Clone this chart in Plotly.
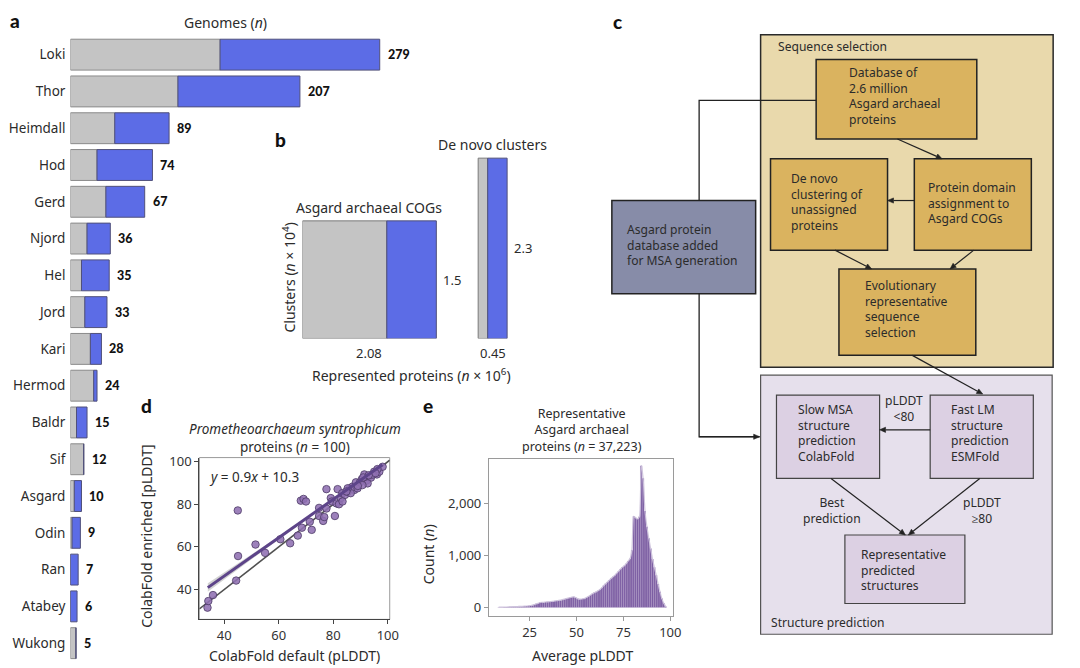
import math
import plotly.graph_objects as go

W, H = 1080, 668
FONT = "Noto Sans"
TXT = "#2b2b2b"
HEAVY = "Lato"

# ---------------- data ----------------
# panel a
clades = ["Loki", "Thor", "Heimdall", "Hod", "Gerd", "Njord", "Hel", "Jord", "Kari",
          "Hermod", "Baldr", "Sif", "Asgard", "Odin", "Ran", "Atabey", "Wukong"]
genomes_total = [279, 207, 89, 74, 67, 36, 35, 33, 28, 24, 15, 12, 10, 9, 7, 6, 5]
genomes_gray = [135, 97, 40, 24, 32, 15, 10, 13, 18, 21, 5.5, 12, 3.5, 1.5, 0, 0, 5]

# panel b
cluster_groups = ["Asgard archaeal COGs", "De novo clusters"]
proteins_e6 = [2.08, 0.45]
clusters_e4 = [1.5, 2.3]
gray_share = [0.63, 0.33]

# panel d
default_plddt = [33.9, 34.2, 35.9, 44.4, 45.1, 45.0, 51.5, 55.0, 60.6, 64.2, 67.0, 68.5,
                 68.1, 69.1, 70.0, 72.1, 71.4, 74.8, 74.8, 76.3, 76.7, 77.5, 77.5, 79.1,
                 79.5, 80.6, 81.2, 81.6, 82.1, 82.8, 83.3, 84.3, 85.3, 86.2, 87.1, 87.7,
                 88.3, 88.9, 89.8, 90.5, 91.4, 92.2, 92.8, 93.8, 95.0, 96.0, 96.9, 98.1,
                 96.2, 92.6, 90.7, 94.4, 86.4, 83.4, 85.3, 91.0, 93.0, 95.5, 89.0, 84.8]
enriched_plddt = [31.5, 34.6, 37.4, 44.2, 55.7, 77.1, 61.1, 57.2, 63.6, 61.7, 65.3, 69.0,
                  81.7, 82.5, 81.3, 68.0, 71.8, 78.3, 74.5, 72.2, 74.0, 87.1, 78.0, 82.9,
                  81.3, 74.5, 80.4, 87.1, 80.0, 82.9, 85.2, 84.4, 85.9, 87.5, 88.3, 86.7,
                  90.3, 87.5, 90.3, 91.8, 94.0, 91.1, 92.8, 92.5, 95.3, 94.0, 95.3, 97.6,
                  96.5, 89.8, 89.0, 93.9, 85.2, 81.3, 87.5, 92.6, 93.6, 94.6, 88.6, 86.0]
fit_slope, fit_intercept = 0.9, 10.3
fit_x = [34, 98]
ci_x = [34, 45, 55, 65, 75, 85, 98]
ci_half = [2.0, 1.3, 0.9, 0.6, 0.45, 0.45, 0.7]
d_range_x = [30.9, 100.7]
d_range_y = [26.0, 101.9]

# panel e (bins of width 1, left edges)
bin_left = list(range(8, 98))
bin_counts = [5, 5, 6, 7, 8, 10, 12, 14, 16, 18, 18, 20, 22, 24, 26, 28, 32, 38, 45, 55, 70, 80,
              95, 100, 98, 105, 108, 110, 115, 118, 125, 130, 135, 140, 150, 160, 170, 180, 190,
              200, 205, 190,
              170, 160, 162, 168, 175, 195, 215, 240, 265, 285, 300, 320, 345, 380, 420, 455,
              490, 525, 560, 590,
              620, 660, 700, 740, 775, 800, 840, 890, 935, 1100,
              1750, 1720, 1700, 1740, 2720, 2480, 1850, 1550, 1330, 1130,
              930, 770, 620, 450, 300, 170, 80, 20]


def X(px):
    return px / W


def Y(py):
    return 1 - py / H


def label(x, y, text, size=13, xanchor="center", yanchor="middle", angle=0, align="center",
          xref="paper", yref="paper", family=None, weight=None, color=TXT, xshift=0, yshift=0):
    f = dict(size=size, color=color)
    if family:
        f["family"] = family
    if weight:
        f["weight"] = weight
    return dict(x=x, y=y, xref=xref, yref=yref, text=text, showarrow=False, xanchor=xanchor,
                yanchor=yanchor, textangle=angle, align=align, font=f, xshift=xshift, yshift=yshift,
                borderpad=0)


fig = go.Figure()
ann = []
shapes = []

# ---------------- panel a ----------------
genomes_blue = [t - g for t, g in zip(genomes_total, genomes_gray)]
fig.add_trace(go.Bar(y=clades, x=genomes_gray, orientation="h", width=0.84,
                     marker=dict(color="#c4c4c4", line=dict(color="#8a8a8a", width=1)),
                     xaxis="x", yaxis="y", showlegend=False, hoverinfo="skip"))
fig.add_trace(go.Bar(y=clades, x=genomes_blue, base=genomes_gray, orientation="h", width=0.84,
                     marker=dict(color="#5c6ce6", line=dict(color="#50507a", width=1)),
                     xaxis="x", yaxis="y", showlegend=False, hoverinfo="skip"))
for c, t in zip(clades, genomes_total):
    ann.append(label(t, c, str(t), size=12.5, xanchor="left", xref="x", yref="y", xshift=7,
                     family=HEAVY, weight=900, color="#111"))
ann.append(label(X(227), Y(18), "Genomes (<i>n</i>)", size=14))

# ---------------- panel b ----------------
gap = 0.65
starts = [0, proteins_e6[0] + gap]
fig.add_trace(go.Bar(x=starts, y=clusters_e4, width=[w * g for w, g in zip(proteins_e6, gray_share)],
                     offset=0, marker=dict(color="#c4c4c4", line=dict(color="#7a7a7a", width=1)),
                     xaxis="x2", yaxis="y2", showlegend=False, hoverinfo="skip"))
fig.add_trace(go.Bar(x=[s + w * g for s, w, g in zip(starts, proteins_e6, gray_share)], y=clusters_e4,
                     width=[w * (1 - g) for w, g in zip(proteins_e6, gray_share)],
                     offset=0, marker=dict(color="#5c6ce6", line=dict(color="#50507a", width=1)),
                     xaxis="x2", yaxis="y2", showlegend=False, hoverinfo="skip"))
for s, w, h, name in zip(starts, proteins_e6, clusters_e4, cluster_groups):
    ann.append(label(s + w / 2, 0, f"{w:g}", size=13, yanchor="top", xref="x2", yref="y2", yshift=-5))
    ann.append(label(s + w, h / 2, f"{h:g}", size=13, xanchor="left", xref="x2", yref="y2", xshift=6))
    ann.append(label(s + w / 2, h, name, size=14, yanchor="bottom", xref="x2", yref="y2", yshift=3))
ann.append(label(X(415), Y(373), "Represented proteins (<i>n</i> × 10<sup>6</sup>)", size=14))
ann.append(label(X(291), Y(275), "Clusters (<i>n</i> × 10<sup>4</sup>)", size=14, angle=-90))

# ---------------- panel d ----------------
fig.add_trace(go.Scatter(x=ci_x + ci_x[::-1],
                         y=[fit_slope * x + fit_intercept + h for x, h in zip(ci_x, ci_half)] +
                           [fit_slope * x + fit_intercept - h for x, h in zip(ci_x, ci_half)][::-1],
                         fill="toself", fillcolor="rgba(175,175,175,0.55)", line=dict(width=0),
                         mode="lines", xaxis="x3", yaxis="y3", showlegend=False, hoverinfo="skip"))
fig.add_trace(go.Scatter(x=d_range_x, y=d_range_x, mode="lines", line=dict(color="#505050", width=1.6),
                         xaxis="x3", yaxis="y3", showlegend=False, hoverinfo="skip"))
fig.add_trace(go.Scatter(x=default_plddt, y=enriched_plddt, mode="markers",
                         marker=dict(size=7.5, color="rgba(143,112,178,0.88)",
                                     line=dict(color="#4d3b66", width=0.8)),
                         xaxis="x3", yaxis="y3", showlegend=False, hoverinfo="skip"))
fig.add_trace(go.Scatter(x=fit_x, y=[fit_slope * x + fit_intercept for x in fit_x], mode="lines",
                         line=dict(color="#5d4489", width=3), xaxis="x3", yaxis="y3",
                         showlegend=False, hoverinfo="skip"))
shapes.append(dict(type="rect", xref="x3 domain", yref="y3 domain", x0=0, x1=1, y0=0, y1=1,
                   line=dict(color="#9a9a9a", width=1), layer="below"))
ann.append(label(X(297), Y(436),
                 "<i>Prometheoarchaeum syntrophicum</i><br>proteins (<i>n</i> = 100)", size=13.5))
ann.append(label(X(210), Y(476), "<i>y</i> = 0.9<i>x</i> + 10.3", size=13.5, xanchor="left"))
ann.append(label(X(297), Y(655), "ColabFold default (pLDDT)", size=14))
ann.append(label(X(148), Y(535), "ColabFold enriched [pLDDT]", size=14, angle=-90))

# ---------------- panel e ----------------
fig.add_trace(go.Bar(x=[b + 0.5 for b in bin_left], y=bin_counts, width=1,
                     marker=dict(color="#7f61a5", line=dict(color="rgba(235,225,245,0.25)", width=0.25)),
                     xaxis="x4", yaxis="y4", showlegend=False, hoverinfo="skip"))
fig.add_trace(go.Scatter(x=[b + 0.5 for b in bin_left], y=bin_counts, mode="lines",
                         line=dict(color="rgba(205,195,220,0.95)", width=1.2, shape="spline", smoothing=0.6),
                         xaxis="x4", yaxis="y4", showlegend=False, hoverinfo="skip"))
ann.append(label(X(587), Y(428), "Representative<br>Asgard archaeal<br>proteins (<i>n</i> = 37,223)",
                 size=12.5))
ann.append(label(X(587), Y(655), "Average pLDDT", size=14))
ann.append(label(X(432), Y(553), "Count (<i>n</i>)", size=14, angle=-90))

# ---------------- panel c (flowchart) ----------------
GOLD, GOLDBG, SLATE, LAVBG, LAV = "#dab35f", "#e9d9ac", "#878ca8", "#e6e0ec", "#dcd0e3"
boxes = [
    (767, 30, 1062, 365, GOLDBG, "#2a2a2a", 1.5),
    (767, 373, 1061, 634, LAVBG, "#555555", 1.2),
    (823, 55, 985, 135, GOLD, "#222222", 1.5),
    (777, 155, 895, 247, GOLD, "#222222", 1.5),
    (922, 155, 1040, 247, GOLD, "#222222", 1.5),
    (846, 266, 984, 353, GOLD, "#222222", 1.5),
    (617, 197, 762, 291, SLATE, "#222222", 1.5),
    (783, 393, 887, 477, LAV, "#444444", 1.2),
    (938, 393, 1042, 477, LAV, "#444444", 1.2),
    (852, 534, 973, 603, LAV, "#444444", 1.2),
]
for x0, y0, x1, y1, fc, lc, lw in boxes:
    shapes.append(dict(type="rect", xref="paper", yref="paper", x0=X(x0), x1=X(x1), y0=Y(y1), y1=Y(y0),
                       fillcolor=fc, line=dict(color=lc, width=lw), layer="below"))


def pth(pts, close=False):
    s = "M " + " L ".join(f"{X(a):.5f},{Y(b):.5f}" for a, b in pts)
    return s + (" Z" if close else "")


# connector lines
for pts in [[(823, 96), (705, 96), (705, 197)], [(705, 291), (705, 435), (766, 435)]]:
    shapes.append(dict(type="path", xref="paper", yref="paper", path=pth(pts),
                       line=dict(color="#222222", width=1.3)))
arrows = [(705, 435, 766, 435), (905, 135, 950, 155), (922, 197, 895, 197), (842, 247, 879, 266),
          (982, 247, 958, 266), (920, 353, 991, 392), (938, 428, 887, 428), (838, 477, 913, 534),
          (988, 477, 916, 534)]
for tx, ty, hx, hy in arrows:
    L = math.hypot(hx - tx, hy - ty)
    ux, uy = (hx - tx) / L, (hy - ty) / L
    hl, hw = 6.0, 2.6
    bx, by = hx - ux * hl, hy - uy * hl
    shapes.append(dict(type="path", xref="paper", yref="paper", path=pth([(tx, ty), (bx, by)]),
                       line=dict(color="#222222", width=1.2)))
    shapes.append(dict(type="path", xref="paper", yref="paper",
                       path=pth([(hx, hy), (bx - uy * hw, by + ux * hw), (bx + uy * hw, by - ux * hw)], True),
                       fillcolor="#222222", line=dict(color="#222222", width=0.6)))
# (x, centre y of text block, lines, anchor)
texts = [
    (784, 41.7, ["Sequence selection"], "left"),
    (855, 92, ["Database of", "2.6 million", "Asgard archaeal", "proteins"], "left"),
    (797, 198, ["De novo", "clustering of", "unassigned", "proteins"], "left"),
    (935, 199, ["Protein domain", "assignment to", "Asgard COGs"], "left"),
    (871, 306.3, ["Evolutionary", "representative", "sequence", "selection"], "left"),
    (631, 242, ["Asgard protein", "database added", "for MSA generation"], "left"),
    (804, 431.3, ["Slow MSA", "structure", "prediction", "ColabFold"], "left"),
    (958, 431.3, ["Fast LM", "structure", "prediction", "ESMFold"], "left"),
    (912, 406.5, ["pLDDT", "<80"], "center"),
    (839, 509.7, ["Best", "prediction"], "center"),
    (990, 509.7, ["pLDDT", "≥80"], "center"),
    (867, 569, ["Representative", "predicted", "structures"], "left"),
    (776, 621.7, ["Structure prediction"], "left"),
]
for x, y, lines, al in texts:
    ann.append(label(X(x), Y(y), "<br>".join(lines), size=12.1, xanchor=al, align=al))

# panel letters
for x, y, t in [(15.5, 16, "a"), (283, 136, "b"), (623, 17, "c"), (148, 404, "d"), (432, 404, "e")]:
    ann.append(label(X(x), Y(y), t, size=19, family=HEAVY, weight=900, color="#111"))

tickf = dict(size=13, color="#333333")
fig.update_layout(
    width=W, height=H, autosize=False, margin=dict(l=0, r=0, t=0, b=0),
    paper_bgcolor="white", plot_bgcolor="rgba(0,0,0,0)", barmode="overlay",
    font=dict(family=FONT, color=TXT), showlegend=False,
    xaxis=dict(domain=[X(71), X(71 + 300 * 1.118)], range=[0, 300], visible=False, anchor="y"),
    yaxis=dict(domain=[Y(661.5), Y(31.5)], type="category", categoryorder="array",
               categoryarray=clades, range=[16.5, -0.5], showline=False, showgrid=False,
               zeroline=False, ticks="", tickfont=dict(size=13.5, color=TXT), ticklabelstandoff=4,
               anchor="x"),
    xaxis2=dict(domain=[X(305), X(305 + 3.3 * 64.9)], range=[0, 3.3], visible=False, anchor="y2"),
    yaxis2=dict(domain=[Y(336), Y(336 - 2.5 * 79)], range=[0, 2.5], visible=False, anchor="x2"),
    xaxis3=dict(domain=[X(201), X(393)], range=d_range_x, tickvals=[40, 60, 80, 100],
                showline=True, linecolor="#444", linewidth=1.2, ticks="outside", ticklen=4,
                tickcolor="#444", showgrid=False, zeroline=False, tickfont=tickf, anchor="y3"),
    yaxis3=dict(domain=[Y(619), Y(456)], range=d_range_y, tickvals=[40, 60, 80, 100],
                showline=True, linecolor="#444", linewidth=1.2, ticks="outside", ticklen=4,
                tickcolor="#444", showgrid=False, zeroline=False, tickfont=tickf, anchor="x3"),
    xaxis4=dict(domain=[X(493), X(679)], range=[3.3, 101.6], tickvals=[25, 50, 75, 100],
                showline=True, mirror=True, linecolor="#9a9a9a", linewidth=1, ticks="outside",
                ticklen=4, tickcolor="#9a9a9a", showgrid=False, zeroline=False, tickfont=tickf,
                anchor="y4"),
    yaxis4=dict(domain=[Y(616), Y(457)], range=[-171, 2857], tickvals=[0, 1000, 2000],
                ticktext=["0", "1,000", "2,000"], showline=True, mirror=True, linecolor="#9a9a9a",
                linewidth=1, ticks="outside", ticklen=4, tickcolor="#9a9a9a", showgrid=False,
                zeroline=False, tickfont=tickf, anchor="x4"),
    annotations=ann, shapes=shapes,
)

fig.write_html("out.html", config={"displayModeBar": False},
               post_script="document.body.style.margin='0';document.body.style.overflow='hidden';")
